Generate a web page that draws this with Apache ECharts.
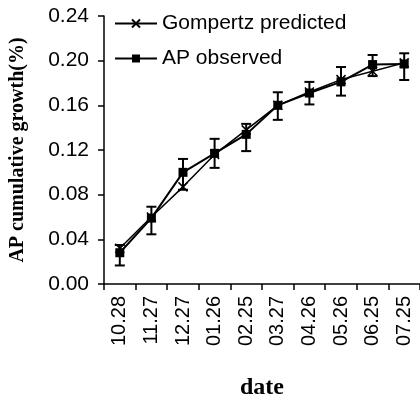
<!DOCTYPE html>
<html>
<head>
<meta charset="utf-8">
<script src="https://cdn.jsdelivr.net/npm/echarts@6/dist/echarts.min.js"></script>
<style>html,body{margin:0;padding:0;background:#fff;}#c{width:420px;height:405px;}</style>
</head>
<body>
<div id="c"></div>
<script>
const categories = ['10.28','11.27','12.27','01.26','02.25','03.27','04.26','05.26','06.25','07.25'];
const gompertz = [0.032, 0.060, 0.087, 0.116, 0.138, 0.160, 0.172, 0.183, 0.1905, 0.198];
const observed = [0.028, 0.059, 0.100, 0.117, 0.134, 0.160, 0.171, 0.181, 0.1965, 0.197];
const errLow  = [0.0166, 0.0445, 0.0844, 0.104, 0.119, 0.147, 0.1608, 0.1687, 0.1862, 0.1827];
const errHigh = [0.0349, 0.0692, 0.112, 0.130, 0.1434, 0.1717, 0.181, 0.1943, 0.2051, 0.2066];
const yTicks = [0, 0.04, 0.08, 0.12, 0.16, 0.20, 0.24];

const chart = echarts.init(document.getElementById('c'));
const sansFont = '"Liberation Sans", Arial, sans-serif';
const serifFont = '"Liberation Serif", "Times New Roman", serif';
const errData = categories.map((c, i) => [i, errLow[i], errHigh[i]]);

chart.setOption({
  animation: false,
  backgroundColor: '#fff',
  grid: { left: 102, top: 16, height: 274, width: 324 },
  legend: {
    data: ['Gompertz predicted', 'AP observed'],
    orient: 'vertical',
    left: 109, top: 8,
    itemWidth: 42, itemHeight: 10, itemGap: 14,
    textStyle: { fontFamily: sansFont, fontSize: 21, color: '#000' }
  },
  xAxis: {
    type: 'category',
    data: categories,
    boundaryGap: true,
    name: 'date',
    nameLocation: 'middle',
    nameGap: 92,
    nameTextStyle: { fontFamily: serifFont, fontWeight: 'bold', fontSize: 24, color: '#000' },
    axisLine: { lineStyle: { color: '#000', width: 1.5 } },
    axisTick: { show: true, inside: false, length: 6, lineStyle: { color: '#000', width: 1.5 } },
    axisLabel: { rotate: 90, margin: 12, fontFamily: sansFont, fontSize: 20, color: '#000' },
    splitLine: { show: false }
  },
  yAxis: {
    type: 'value',
    min: 0, max: 0.24, interval: 0.04,
    name: 'AP cumulative growth(%)',
    nameLocation: 'middle',
    nameGap: 76,
    nameTextStyle: { fontFamily: serifFont, fontWeight: 'bold', fontSize: 20, color: '#000' },
    axisLine: { show: true, lineStyle: { color: '#000', width: 1.5 } },
    axisTick: { show: true, inside: false, length: 6, lineStyle: { color: '#000', width: 1.5 } },
    axisLabel: { margin: 15, fontFamily: sansFont, fontSize: 21, color: '#000',
      formatter: v => yTicks.includes(Math.round(v*100)/100) ? v.toFixed(2) : '' },
    splitLine: { show: false }
  },
  series: [
    {
      name: 'Gompertz predicted',
      type: 'line',
      data: gompertz,
      symbol: 'path://M0,0L10,10M10,0L0,10',
      symbolSize: 9,
      lineStyle: { color: '#000', width: 1.5 },
      itemStyle: { color: '#000', borderColor: '#000', borderWidth: 1.5 },
      z: 3
    },
    {
      name: 'AP observed',
      type: 'line',
      data: observed,
      symbol: 'rect',
      symbolSize: 9,
      lineStyle: { color: '#000', width: 2 },
      itemStyle: { color: '#000' },
      z: 4
    },
    {
      name: 'err',
      type: 'custom',
      data: errData,
      z: 5,
      renderItem: function (params, api) {
        const x = api.value(0);
        const lo = api.coord([x, api.value(1)]);
        const hi = api.coord([x, api.value(2)]);
        const hw = 5;
        const style = { stroke: '#000', lineWidth: 2 };
        return {
          type: 'group',
          children: [
            { type: 'line', shape: { x1: lo[0], y1: lo[1], x2: hi[0], y2: hi[1] }, style },
            { type: 'line', shape: { x1: lo[0]-hw, y1: lo[1], x2: lo[0]+hw, y2: lo[1] }, style },
            { type: 'line', shape: { x1: hi[0]-hw, y1: hi[1], x2: hi[0]+hw, y2: hi[1] }, style }
          ]
        };
      }
    }
  ]
});
</script>
</body>
</html>
